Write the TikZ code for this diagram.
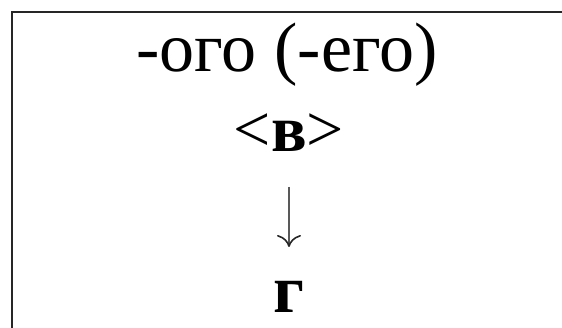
\documentclass[tikz,border=0pt]{standalone}
\usepackage{fontspec}
\setmainfont{Liberation Serif}
\usetikzlibrary{arrows.meta}
\begin{document}
\begin{tikzpicture}[x=1pt,y=-1pt,
  txt/.style={inner sep=0pt,anchor=base,text=black},
  frame/.style={draw=black!85,line width=2pt},
  conn/.style={draw=black!65,line width=1.3pt,-{Computer Modern Rightarrow[length=12pt,width=24pt,line width=1.6pt,black!85]}}]
\useasboundingbox[fill=white] (0,0) rectangle (562,328);
\clip (0,0) rectangle (562,328);
\draw[frame] (12,12) rectangle (620,380);
\node[txt,font=\fontsize{70}{84}\selectfont] (t) at (287,72) {-ого (-его)};
\node[txt,font=\fontsize{66}{80}\selectfont] (b) at (289,152) {<\textbf{в}>};
\node[txt,font=\fontsize{68}{80}\selectfont\bfseries] (g) at (289,313) {г};
\draw[conn,shorten <=35pt,shorten >=66pt] (b.base) -- (g.base);
\end{tikzpicture}
\end{document}
